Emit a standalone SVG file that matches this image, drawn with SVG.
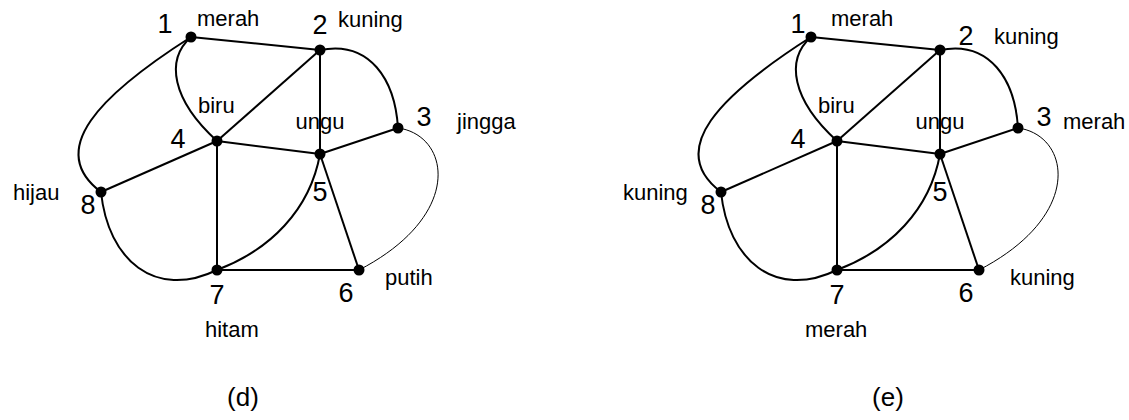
<svg xmlns="http://www.w3.org/2000/svg" width="1129" height="420" viewBox="0 0 1129 420">
<style>
.e{fill:none;stroke:#000;stroke-width:2}
.t{fill:none;stroke:#000;stroke-width:1}
.n{fill:#000}
.num{font-family:"Liberation Sans",Arial,sans-serif;font-size:27px;fill:#000;text-anchor:middle}
.lbl{font-family:"Liberation Sans",Arial,sans-serif;font-size:22px;fill:#000}
.cap{font-family:"Liberation Sans",Arial,sans-serif;font-size:26px;fill:#000;text-anchor:middle}
</style>
<rect width="1129" height="420" fill="#fff"/>
<!-- Graph (d) -->
<g id="connectors-d">
<line class="e" x1="191" y1="37" x2="320" y2="50"/>
<path class="e" d="M191,37 C165,60 172,100 217,141"/>
<path class="e" d="M191,37 C100,95 45,150 101,192"/>
<path class="e" d="M320,50 C370,40 395,80 398,128"/>
<line class="e" x1="320" y1="50" x2="217" y2="141"/>
<line class="e" x1="320" y1="50" x2="320" y2="154"/>
<line class="e" x1="398" y1="128" x2="320" y2="154"/>
<path class="t" d="M398,128 C450,135 465,215 359,270"/>
<line class="e" x1="217" y1="141" x2="320" y2="154"/>
<line class="e" x1="217" y1="141" x2="217" y2="270"/>
<line class="e" x1="217" y1="141" x2="101" y2="192"/>
<line class="e" x1="320" y1="154" x2="359" y2="270"/>
<path class="e" d="M320,154 C310,210 270,250 217,270"/>
<line class="e" x1="217" y1="270" x2="359" y2="270"/>
<path class="e" d="M101,192 C108,260 155,300 217,270"/>
</g>
<g id="d-node1"><circle class="n" cx="191" cy="37" r="5.5"/><text class="num" x="165" y="33">1</text><text class="lbl" x="197" y="26">merah</text></g>
<g id="d-node2"><circle class="n" cx="320" cy="50" r="5.5"/><text class="num" x="320" y="34">2</text><text class="lbl" x="338" y="27">kuning</text></g>
<g id="d-node3"><circle class="n" cx="398" cy="128" r="5.5"/><text class="num" x="424" y="126">3</text><text class="lbl" x="457" y="129">jingga</text></g>
<g id="d-node4"><circle class="n" cx="217" cy="141" r="5.5"/><text class="num" x="178" y="148">4</text><text class="lbl" x="198" y="113">biru</text></g>
<g id="d-node5"><circle class="n" cx="320" cy="154" r="5.5"/><text class="num" x="320" y="201">5</text><text class="lbl" x="320" y="129" text-anchor="middle">ungu</text></g>
<g id="d-node6"><circle class="n" cx="359" cy="270" r="5.5"/><text class="num" x="346" y="302">6</text><text class="lbl" x="385" y="285">putih</text></g>
<g id="d-node7"><circle class="n" cx="217" cy="270" r="5.5"/><text class="num" x="217" y="304">7</text><text class="lbl" x="205" y="337">hitam</text></g>
<g id="d-node8"><circle class="n" cx="101" cy="192" r="5.5"/><text class="num" x="88" y="214">8</text><text class="lbl" x="13" y="200">hijau</text></g>
<text class="cap" x="243" y="406">(d)</text>
<!-- Graph (e) -->
<g id="connectors-e" transform="translate(620,0)">
<line class="e" x1="191" y1="37" x2="320" y2="50"/>
<path class="e" d="M191,37 C165,60 172,100 217,141"/>
<path class="e" d="M191,37 C100,95 45,150 101,192"/>
<path class="e" d="M320,50 C370,40 395,80 398,128"/>
<line class="e" x1="320" y1="50" x2="217" y2="141"/>
<line class="e" x1="320" y1="50" x2="320" y2="154"/>
<line class="e" x1="398" y1="128" x2="320" y2="154"/>
<path class="t" d="M398,128 C450,135 465,215 359,270"/>
<line class="e" x1="217" y1="141" x2="320" y2="154"/>
<line class="e" x1="217" y1="141" x2="217" y2="270"/>
<line class="e" x1="217" y1="141" x2="101" y2="192"/>
<line class="e" x1="320" y1="154" x2="359" y2="270"/>
<path class="e" d="M320,154 C310,210 270,250 217,270"/>
<line class="e" x1="217" y1="270" x2="359" y2="270"/>
<path class="e" d="M101,192 C108,260 155,300 217,270"/>
</g>
<g id="e-node1"><circle class="n" cx="811" cy="37" r="5.5"/><text class="num" x="798" y="33">1</text><text class="lbl" x="831" y="26">merah</text></g>
<g id="e-node2"><circle class="n" cx="940" cy="50" r="5.5"/><text class="num" x="966" y="45">2</text><text class="lbl" x="994" y="44">kuning</text></g>
<g id="e-node3"><circle class="n" cx="1018" cy="128" r="5.5"/><text class="num" x="1044" y="126">3</text><text class="lbl" x="1063" y="129">merah</text></g>
<g id="e-node4"><circle class="n" cx="837" cy="141" r="5.5"/><text class="num" x="798" y="148">4</text><text class="lbl" x="818" y="113">biru</text></g>
<g id="e-node5"><circle class="n" cx="940" cy="154" r="5.5"/><text class="num" x="940" y="201">5</text><text class="lbl" x="940" y="129" text-anchor="middle">ungu</text></g>
<g id="e-node6"><circle class="n" cx="979" cy="270" r="5.5"/><text class="num" x="966" y="302">6</text><text class="lbl" x="1010" y="285">kuning</text></g>
<g id="e-node7"><circle class="n" cx="837" cy="270" r="5.5"/><text class="num" x="837" y="304">7</text><text class="lbl" x="805" y="337">merah</text></g>
<g id="e-node8"><circle class="n" cx="721" cy="192" r="5.5"/><text class="num" x="708" y="214">8</text><text class="lbl" x="623" y="200">kuning</text></g>
<text class="cap" x="888" y="406">(e)</text>
</svg>
